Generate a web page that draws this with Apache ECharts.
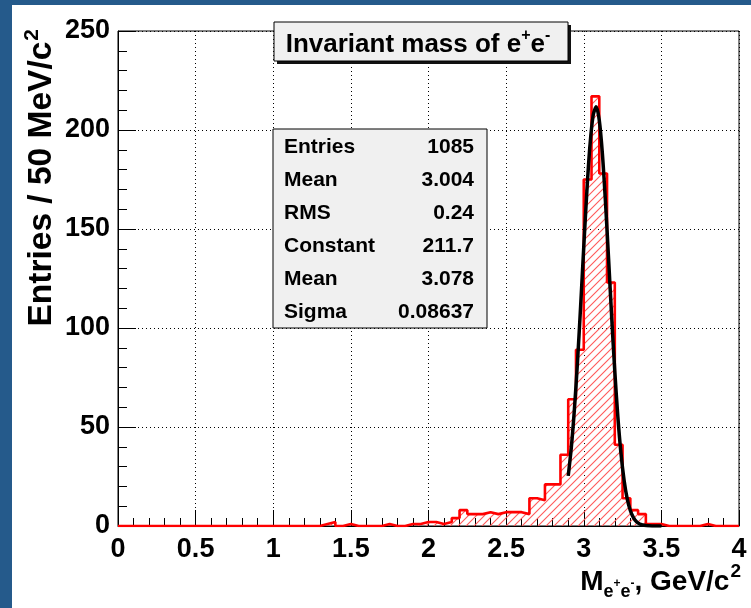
<!DOCTYPE html>
<html>
<head>
<meta charset="utf-8">
<script src="https://cdn.jsdelivr.net/npm/echarts/dist/echarts.min.js"></script>
<style>
html,body{margin:0;padding:0;background:#fff;}
#c{width:751px;height:608px;}
</style>
</head>
<body>
<div id="c"></div>
<script>
// ---- data ----
const histMin = 0;
const binWidth = 0.05;
// 80 bins of 50 MeV from 0 to 4 GeV
const counts = [
  0,0,0,0,0,0,0,0,0,0,
  0,0,0,0,0,0,0,0,0,0,
  0,0,0,0,0,0,1,2,0,1,
  0,0,0,0,1,0,0,1,1,2,
  2,1,2,4,8,6,6,7,6,7,
  7,7,6,14,13,21,21,36,64,89,
  175,217,178,123,41,14,8,6,1,1,
  0,0,0,0,0,1,0,0,0,0
];
// Gaussian fit curve
const fitX = [2.90,2.92,2.94,2.96,2.98,3.00,3.02,3.04,3.06,3.08,3.10,3.12,3.14,3.16,3.18,3.20,
              3.22,3.24,3.26,3.28,3.30,3.32,3.34,3.36,3.38,3.40,3.42,3.44,3.46,3.48,3.50];
const fitY = [25.3,39.7,59.1,83.3,111.2,140.8,169.0,192.2,207.1,211.7,204.9,188.1,163.6,134.9,105.4,78.1,
              54.8,36.5,23.0,13.7,7.8,4.2,2.1,1.0,0.5,0.2,0.1,0.03,0.01,0,0];
const statNames = ['Entries','Mean','RMS','Constant','Mean','Sigma'];
const statValues = ['1085','3.004','0.24','211.7','3.078','0.08637'];
const xMin = 0, xMax = 4, xStep = 0.5;
const yMin = 0, yMax = 250, yStep = 50;

// ---- build ----
const histData = counts.map((c, i) => [histMin + i * binWidth, c]);
histData.push([histMin + counts.length * binWidth, counts[counts.length - 1]]);
const fitData = fitX.map((x, i) => [x, fitY[i]]);

// hatch pattern (ROOT fill style 3004-like)
const pc = document.createElement('canvas');
pc.width = 8; pc.height = 8;
const pctx = pc.getContext('2d');
pctx.clearRect(0, 0, 8, 8);
pctx.strokeStyle = '#ff5a5a';
pctx.lineWidth = 1.1;
pctx.beginPath();
pctx.moveTo(0, 8); pctx.lineTo(8, 0);
pctx.moveTo(-2, 2); pctx.lineTo(2, -2);
pctx.moveTo(6, 10); pctx.lineTo(10, 6);
pctx.stroke();
const hatchImg = new Image();
hatchImg.src = pc.toDataURL('image/png');

const SANS = '"Liberation Sans", Arial, sans-serif';
const black = '#000';

const statsTop = 129, statsLeft = 273, statsW = 214, statsH = 199;
const statEls = [];
statNames.forEach((n, i) => {
  const cy = 147 + i * 33;
  statEls.push({type: 'text', z: 102, style: {x: 284, y: cy, text: n, fill: black,
    font: 'bold 21px ' + SANS, textAlign: 'left', textVerticalAlign: 'middle'}});
  statEls.push({type: 'text', z: 102, style: {x: 474, y: cy, text: statValues[i], fill: black,
    font: 'bold 21px ' + SANS, textAlign: 'right', textVerticalAlign: 'middle'}});
});

function draw() {
const chart = echarts.init(document.getElementById('c'), null, {renderer: 'canvas'});
chart.setOption({
  animation: false,
  backgroundColor: '#ffffff',
  grid: {left: 118, top: 31, width: 621, height: 495, show: true, borderColor: black, borderWidth: 1,
         backgroundColor: 'transparent'},
  xAxis: {
    type: 'value', min: xMin, max: xMax, interval: xStep,
    axisLine: {show: true, onZero: false, lineStyle: {color: black, width: 1}},
    axisTick: {show: true, inside: true, length: 16, lineStyle: {color: black, width: 1}},
    minorTick: {show: true, splitNumber: 5, length: 8, lineStyle: {color: black, width: 1}},
    splitLine: {show: true, lineStyle: {color: black, width: 1, type: [1, 3]}},
    axisLabel: {color: black, fontFamily: SANS, fontWeight: 'bold', fontSize: 27, margin: 10,
      showMinLabel: true, showMaxLabel: true}
  },
  yAxis: {
    type: 'value', min: yMin, max: yMax, interval: yStep,
    axisLine: {show: true, onZero: false, lineStyle: {color: black, width: 1}},
    axisTick: {show: true, inside: true, length: 18, lineStyle: {color: black, width: 1}},
    minorTick: {show: true, splitNumber: 5, length: 9, lineStyle: {color: black, width: 1}},
    splitLine: {show: true, lineStyle: {color: black, width: 1, type: [1, 3]}},
    axisLabel: {color: black, fontFamily: SANS, fontWeight: 'bold', fontSize: 27, margin: 8,
      showMinLabel: true, showMaxLabel: true}
  },
  series: [
    {
      type: 'line', name: 'hist', data: histData, step: 'end', showSymbol: false, symbol: 'none',
      color: '#ff0000',
      lineStyle: {color: '#ff0000', width: 2.6},
      areaStyle: {color: {image: hatchImg, repeat: 'repeat'}, opacity: 1},
      z: 3, silent: true
    },
    {
      type: 'line', name: 'fit', data: fitData, smooth: 0.3, showSymbol: false, symbol: 'none',
      color: black,
      lineStyle: {color: black, width: 3.5}, z: 4, silent: true
    }
  ],
  graphic: [
    {type: 'rect', z: 100, shape: {x: 0, y: 0, width: 12, height: 608}, style: {fill: '#255a8b'}},
    {type: 'rect', z: 100, shape: {x: 0, y: 0, width: 751, height: 5}, style: {fill: '#255a8b'}},
    // title box
    {type: 'rect', z: 100, shape: {x: 277, y: 25, width: 294, height: 39}, style: {fill: '#111'}},
    {type: 'rect', z: 101, shape: {x: 274, y: 22, width: 294, height: 39}, style: {fill: '#f0f0f0', stroke: black, lineWidth: 1}},
    {type: 'text', z: 102, style: {x: 418, y: 28, textAlign: 'center', textVerticalAlign: 'top',
      text: '{m|Invariant mass of e}{s|+}{m|e}{s|-}',
      rich: {
        m: {fontFamily: SANS, fontWeight: 'bold', fontSize: 26, lineHeight: 26, verticalAlign: 'top', padding: [4,0,0,0], fill: black, color: black},
        s: {fontFamily: SANS, fontWeight: 'bold', fontSize: 16, lineHeight: 16, verticalAlign: 'top', padding: [0,0,0,0], fill: black, color: black}
      }}},
    // stats box
    {type: 'rect', z: 101, shape: {x: statsLeft, y: statsTop, width: statsW, height: statsH}, style: {fill: '#f0f0f0', stroke: black, lineWidth: 1}},
    ...statEls,
    // y title
    {type: 'text', z: 102, x: 22, y: 29, rotation: Math.PI / 2, style: {x: 0, y: 0, textAlign: 'right', textVerticalAlign: 'top',
      text: '{m|Entries / 50 MeV/c}{s|2}',
      rich: {
        m: {fontFamily: SANS, fontWeight: 'bold', fontSize: 33.5, lineHeight: 33, verticalAlign: 'top', padding: [3,0,0,0], fill: black, color: black},
        s: {fontFamily: SANS, fontWeight: 'bold', fontSize: 21, lineHeight: 21, verticalAlign: 'top', padding: [0,0,0,1], fill: black, color: black}
      }}},
    // x title
    {type: 'text', z: 102, style: {x: 741, y: 562, textAlign: 'right', textVerticalAlign: 'top',
      text: '{m|M}{b|e}{bs|+}{b|e}{bs|-}{m|, GeV/c}{s|2}',
      rich: {
        m: {fontFamily: SANS, fontWeight: 'bold', fontSize: 28, lineHeight: 28, verticalAlign: 'top', padding: [6,0,0,0], fill: black, color: black},
        b: {fontFamily: SANS, fontWeight: 'bold', fontSize: 18, lineHeight: 18, verticalAlign: 'top', padding: [21,0,0,0], fill: black, color: black},
        bs: {fontFamily: SANS, fontWeight: 'bold', fontSize: 12, lineHeight: 12, verticalAlign: 'top', padding: [16,0,0,0], fill: black, color: black},
        s: {fontFamily: SANS, fontWeight: 'bold', fontSize: 19, lineHeight: 19, verticalAlign: 'top', padding: [0,0,0,1], fill: black, color: black}
      }}}
  ]
});
}
if (hatchImg.complete) draw(); else { hatchImg.onload = draw; }
</script>
</body>
</html>
